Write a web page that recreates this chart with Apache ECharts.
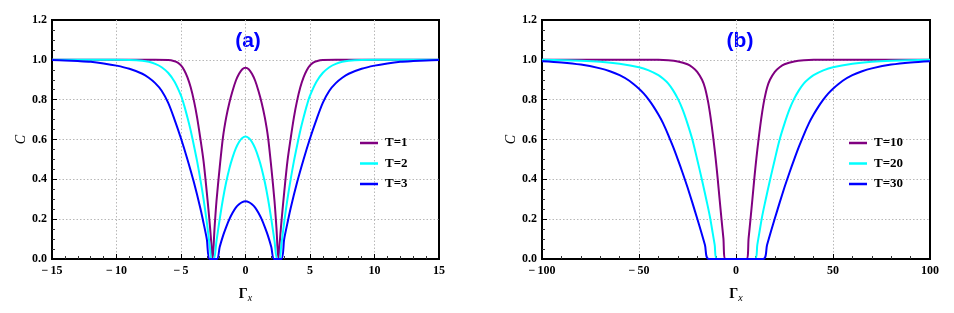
<!DOCTYPE html>
<html>
<head>
<meta charset="utf-8">
<script src="https://cdn.jsdelivr.net/npm/echarts@6/dist/echarts.min.js"></script>
<style>
html,body{margin:0;padding:0;background:#fff;}
#chart{width:954px;height:313px;}
</style>
</head>
<body>
<div id="chart"></div>
<script>
// ---- Panel (a) data ----
const aT1X = [-15,-10,-8,-7,-6,-5.5,-5.25,-5,-4.75,-4.5,-4.25,-4,-3.75,-3.5,-3.25,-3,-2.875,-2.75,-2.65,-2.55,-2.4,-2.25,-2,-1.75,-1.5,-1.25,-1,-0.75,-0.5,-0.25,0,0.25,0.5,0.75,1,1.25,1.5,1.75,2,2.25,2.4,2.55,2.65,2.75,2.875,3,3.25,3.5,3.75,4,4.25,4.5,4.75,5,5.25,5.5,6,7,8,10,15];
const aT1Y = [1,1,1,1,0.999,0.993,0.986,0.972,0.948,0.912,0.862,0.795,0.71,0.605,0.49,0.335,0.25,0.16,0.08,0,0.155,0.29,0.46,0.61,0.71,0.785,0.845,0.895,0.93,0.953,0.96,0.953,0.93,0.895,0.845,0.785,0.71,0.61,0.46,0.29,0.155,0,0.08,0.16,0.25,0.335,0.49,0.605,0.71,0.795,0.862,0.912,0.948,0.972,0.986,0.993,0.999,1,1,1,1];

const aT2X = [-15,-10,-9,-8,-7.5,-7,-6.5,-6,-5.5,-5,-4.75,-4.5,-4.25,-4,-3.75,-3.5,-3.25,-3,-2.75,-2.65,-2.45,-2.25,-2,-1.75,-1.5,-1.25,-1,-0.75,-0.5,-0.25,0,0.25,0.5,0.75,1,1.25,1.5,1.75,2,2.25,2.45,2.65,2.75,3,3.25,3.5,3.75,4,4.25,4.5,4.75,5,5.5,6,6.5,7,7.5,8,9,10,15];
const aT2Y = [1,1,0.999,0.995,0.99,0.98,0.963,0.935,0.89,0.82,0.77,0.71,0.645,0.57,0.49,0.4,0.3,0.185,0.055,0,0,0.09,0.2,0.3,0.385,0.455,0.51,0.555,0.587,0.607,0.615,0.607,0.587,0.555,0.51,0.455,0.385,0.3,0.2,0.09,0,0,0.055,0.185,0.3,0.4,0.49,0.57,0.645,0.71,0.77,0.82,0.89,0.935,0.963,0.98,0.99,0.995,0.999,1,1];

const aT3X = [-15,-14,-13,-12,-11,-10,-9,-8,-7.5,-7,-6.5,-6,-5.5,-5,-4.5,-4,-3.5,-3.25,-3,-2.78,-2.22,-2,-1.75,-1.5,-1.25,-1,-0.75,-0.5,-0.25,0,0.25,0.5,0.75,1,1.25,1.5,1.75,2,2.22,2.78,3,3.25,3.5,4,4.5,5,5.5,6,6.5,7,7.5,8,9,10,11,12,13,14,15];
const aT3Y = [0.999,0.997,0.994,0.99,0.982,0.971,0.955,0.93,0.91,0.883,0.845,0.785,0.7,0.605,0.5,0.385,0.255,0.18,0.1,0,0,0.06,0.115,0.16,0.2,0.232,0.258,0.275,0.286,0.29,0.286,0.275,0.258,0.232,0.2,0.16,0.115,0.06,0,0,0.1,0.18,0.255,0.385,0.5,0.605,0.7,0.785,0.845,0.883,0.91,0.93,0.955,0.971,0.982,0.99,0.994,0.997,0.999];

// ---- Panel (b) data ----
const bT10X = [-100,-40,-35,-30,-25,-22.5,-20,-17.5,-16,-14.5,-13.5,-12.5,-11.5,-10.5,-9.5,-8.5,-7.5,-6.5,-5.4,5.4,6.5,7.5,8.5,9.5,10.5,11.5,12.5,13.5,14.5,16,17.5,20,22.5,25,30,35,40,100];
const bT10Y = [1,1,0.998,0.992,0.978,0.963,0.94,0.9,0.86,0.795,0.737,0.668,0.59,0.505,0.41,0.305,0.203,0.105,0,0,0.105,0.203,0.305,0.41,0.505,0.59,0.668,0.737,0.795,0.86,0.9,0.94,0.963,0.978,0.992,0.998,1,1];

const bT20X = [-100,-80,-70,-60,-50,-45,-40,-37.5,-35,-32.5,-30,-27.5,-25,-22.5,-20,-17.5,-15,-13.5,-12,-11,-9.8,9.8,11,12,13.5,15,17.5,20,22.5,25,27.5,30,32.5,35,37.5,40,45,50,60,70,80,100];
const bT20Y = [1,0.995,0.99,0.98,0.963,0.947,0.923,0.905,0.882,0.848,0.805,0.75,0.68,0.6,0.5,0.395,0.285,0.215,0.13,0.072,0,0,0.072,0.13,0.215,0.285,0.395,0.5,0.6,0.68,0.75,0.805,0.848,0.882,0.905,0.923,0.947,0.963,0.98,0.99,0.995,1];

const bT30X = [-100,-90,-80,-70,-65,-60,-55,-50,-47.5,-45,-42.5,-40,-37.5,-35,-32.5,-30,-27.5,-25,-22.5,-20,-18,-16,-14,14,16,18,20,22.5,25,27.5,30,32.5,35,37.5,40,42.5,45,47.5,50,55,60,65,70,80,90,100];
const bT30Y = [0.993,0.987,0.976,0.957,0.943,0.923,0.895,0.855,0.83,0.8,0.765,0.725,0.68,0.625,0.565,0.5,0.432,0.36,0.283,0.203,0.138,0.07,0,0,0.07,0.138,0.203,0.283,0.36,0.432,0.5,0.565,0.625,0.68,0.725,0.765,0.8,0.83,0.855,0.895,0.923,0.943,0.957,0.976,0.987,0.993];

const seriesNamesA = ['T=1','T=2','T=3'];
const seriesNamesB = ['T=10','T=20','T=30'];
const colors = ['#800080','#00ffff','#0000ff'];

const xTicksA = {min:-15, max:15, interval:5};
const xTicksB = {min:-100, max:100, interval:50};
const yTicks = {min:0, max:1.2, interval:0.2};

function zip(xs, ys){ return xs.map((x,i)=>[x, ys[i]]); }

const serif = 'Liberation Serif';
const labelStyle = {fontFamily: serif, fontWeight:'bold', fontSize:12, color:'#000'};

function xAxisCfg(gi, t, minorSplit){
  return {
    type:'value', gridIndex:gi, min:t.min, max:t.max, interval:t.interval,
    axisLine:{show:true, onZero:false, lineStyle:{color:'#000', width:2}},
    axisTick:{show:true, inside:true, length:5, lineStyle:{color:'#000', width:1}},
    minorTick:{show:true, splitNumber:minorSplit, length:3, lineStyle:{color:'#333', width:1}},
    axisLabel:Object.assign({margin:6, formatter: v => v < 0 ? '\u2212\u2009' + Math.abs(v) : String(v)}, labelStyle),
    splitLine:{show:true, showMinLine:false, showMaxLine:false, lineStyle:{color:'#b8b8b8', type:[1.5,2], width:1}},
    name:'{g|\u0393}{s|x}', nameLocation:'middle', nameGap:26,
    nameTextStyle:{rich:{g:{fontFamily:serif, fontSize:14, fontWeight:'bold', color:'#000'}, s:{fontFamily:serif, fontStyle:'italic', fontSize:10, color:'#000', padding:[8,0,0,0]}}}
  };
}
function yAxisCfg(gi){
  return {
    type:'value', gridIndex:gi, min:yTicks.min, max:yTicks.max, interval:yTicks.interval,
    axisLine:{show:true, onZero:false, lineStyle:{color:'#000', width:2}},
    axisTick:{show:true, inside:true, length:5, lineStyle:{color:'#000', width:1}},
    minorTick:{show:true, splitNumber:4, length:3, lineStyle:{color:'#333', width:1}},
    axisLabel:Object.assign({margin:5, formatter: v => v.toFixed(1)}, labelStyle),
    splitLine:{show:true, showMinLine:false, showMaxLine:false, lineStyle:{color:'#b8b8b8', type:[1.5,2], width:1}},
    name:'C', nameLocation:'middle', nameGap:23,
    nameTextStyle:{fontFamily:serif, fontStyle:'italic', fontSize:14, color:'#000'}
  };
}

const seriesA = [zip(aT1X,aT1Y), zip(aT2X,aT2Y), zip(aT3X,aT3Y)];
const seriesB = [zip(bT10X,bT10Y), zip(bT20X,bT20Y), zip(bT30X,bT30Y)];

const series = [];
seriesA.forEach((d,i)=>series.push({name:seriesNamesA[i], type:'line', xAxisIndex:0, yAxisIndex:0, data:d, symbol:'none', smooth:0.3, lineStyle:{width:2, color:colors[i]}, itemStyle:{color:colors[i]}, animation:false}));
seriesB.forEach((d,i)=>series.push({name:seriesNamesB[i], type:'line', xAxisIndex:1, yAxisIndex:1, data:d, symbol:'none', smooth:0.3, lineStyle:{width:2, color:colors[i]}, itemStyle:{color:colors[i]}, animation:false}));

const legendText = {fontFamily:serif, fontWeight:'bold', fontSize:13, lineHeight:14, color:'#000', padding:[0,0,0,2]};

const chart = echarts.init(document.getElementById('chart'), null, {renderer:'canvas'});
chart.setOption({
  backgroundColor:'#fff',
  animation:false,
  grid:[
    {left:52, top:20, width:387, height:239, show:true, borderColor:'#000', borderWidth:2, backgroundColor:'transparent'},
    {left:542, top:20, width:388, height:239, show:true, borderColor:'#000', borderWidth:2, backgroundColor:'transparent'}
  ],
  xAxis:[xAxisCfg(0, xTicksA, 5), xAxisCfg(1, xTicksB, 5)],
  yAxis:[yAxisCfg(0), yAxisCfg(1)],
  legend:[
    {data:seriesNamesA, orient:'vertical', left:360, top:136, padding:0, icon:'rect', itemWidth:18, itemHeight:2.5, itemGap:6.5, textStyle:legendText},
    {data:seriesNamesB, orient:'vertical', left:849, top:136, padding:0, icon:'rect', itemWidth:18, itemHeight:2.5, itemGap:6.5, textStyle:legendText}
  ],
  graphic:[
    {type:'text', x:248, y:41, style:{text:'(a)', textAlign:'center', textVerticalAlign:'middle', fill:'#0000ff', font:'bold 21px "Liberation Sans"'}},
    {type:'text', x:740, y:41, style:{text:'(b)', textAlign:'center', textVerticalAlign:'middle', fill:'#0000ff', font:'bold 21px "Liberation Sans"'}}
  ],
  series:series
});
</script>
</body>
</html>
